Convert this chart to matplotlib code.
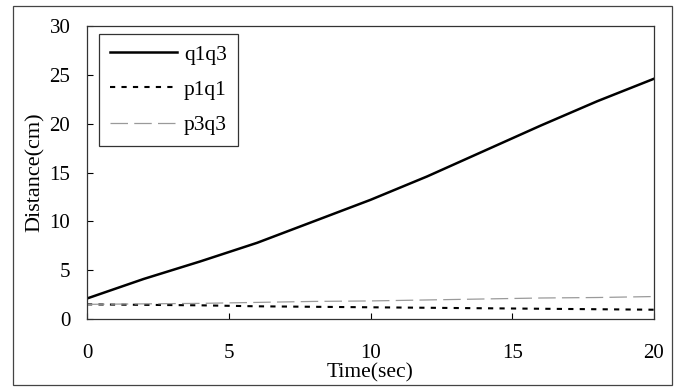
import matplotlib
matplotlib.use("Agg")
import matplotlib.pyplot as plt
from matplotlib.patches import Rectangle

time_sec = [0, 2, 4, 6, 8, 10, 12, 14, 16, 18, 20]
q1q3 = [2.1, 4.1, 5.9, 7.8, 10.0, 12.2, 14.6, 17.2, 19.8, 22.3, 24.6]
p1q1 = [1.5, 1.45, 1.4, 1.3, 1.25, 1.2, 1.15, 1.1, 1.05, 1.0, 0.95]
p3q3 = [1.5, 1.55, 1.6, 1.7, 1.8, 1.85, 1.95, 2.05, 2.15, 2.2, 2.3]
x_ticks = [0, 5, 10, 15, 20]
y_ticks = [0, 5, 10, 15, 20, 25, 30]

plt.rcParams['font.family'] = ['Liberation Serif', 'DejaVu Serif']

fig = plt.figure(figsize=(6.75, 3.88), dpi=100)
ax = fig.add_axes([87/675, 1-319/388, 567/675, 293/388])

ax.plot(time_sec, q1q3, color='black', lw=1.8, label='q1q3')
ax.plot(time_sec, p1q1, color='black', lw=1.5, linestyle=(0, (2.5, 3.0)), label='p1q1')
ax.plot(time_sec, p3q3, color='#9a9a9a', lw=0.9, linestyle=(0, (14, 5)), label='p3q3')

ax.set_xlim(0, 20)
ax.set_ylim(0, 30)
ax.set_xticks(x_ticks)
ax.set_yticks(y_ticks)
ax.tick_params(axis='both', direction='in', length=4.3, width=0.8, labelsize=15)
ax.tick_params(axis='y', pad=12)
ax.tick_params(axis='x', pad=18)
for s in ax.spines.values():
    s.set_linewidth(0.9)
    s.set_color('#333333')

ax.set_xlabel('Time(sec)', fontsize=15.5)
ax.xaxis.set_label_coords(0.5, -0.15)
ax.set_ylabel('Distance(cm)', fontsize=16)
ax.yaxis.set_label_coords(-0.074, 0.5)

leg = ax.legend(loc='upper left', bbox_to_anchor=(12/567, 1-8/293), borderaxespad=0,
                fontsize=15.5, handlelength=3.1, handletextpad=0.35, labelspacing=0.7,
                borderpad=0.5, fancybox=False, frameon=True)
leg.get_frame().set_edgecolor('black')
leg.get_frame().set_linewidth(0.9)

fig.patches.append(Rectangle((13/675, 1-385/388), 659/675, 379/388, transform=fig.transFigure,
                             fill=False, edgecolor='#444444', linewidth=0.9))

fig.savefig('out.png', dpi=100)
